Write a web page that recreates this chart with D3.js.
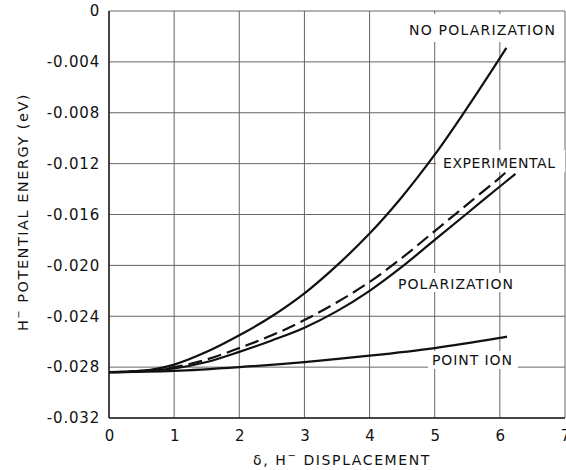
<!DOCTYPE html>
<html>
<head>
	<meta charset="utf-8">
	<title>H- potential energy vs displacement</title>
	<script src="https://cdn.jsdelivr.net/npm/d3@7" type="text/javascript"></script>
	<style>
		body { margin: 0; background: #fff; }
		svg text {
			font-family: "DejaVu Sans", sans-serif;
			fill: #111;
		}
		.grid line { stroke: #666; stroke-width: 1; }
		.curve { fill: none; stroke: #111; stroke-width: 2.2; }
	</style>
</head>
<body>
	<script type="text/javascript">
		// Tick values for both axes
		var xTicks = [0, 1, 2, 3, 4, 5, 6, 7];
		var yTicks = [0, -0.004, -0.008, -0.012, -0.016, -0.020, -0.024, -0.028, -0.032];

		// Curves: [displacement, energy (eV)]
		var noPolarization = [[0, -0.0284], [0.5, -0.0283], [1, -0.0278], [1.5, -0.0268],
			[2, -0.0255], [2.5, -0.0240], [3, -0.0222], [3.5, -0.0200], [4, -0.0175],
			[4.5, -0.0146], [5, -0.0113], [5.5, -0.0076], [6, -0.0037], [6.1, -0.0029]];
		var experimental = [[0, -0.0284], [0.5, -0.0283], [1, -0.0280], [1.5, -0.0274],
			[2, -0.0265], [2.5, -0.0255], [3, -0.0243], [3.5, -0.0229], [4, -0.0213],
			[4.5, -0.0194], [5, -0.0173], [5.5, -0.0152], [6, -0.0131], [6.11, -0.0126]];
		var polarization = [[0, -0.0284], [0.5, -0.0283], [1, -0.0281], [1.5, -0.0276],
			[2, -0.0268], [2.5, -0.0259], [3, -0.0249], [3.5, -0.0236], [4, -0.0220],
			[4.5, -0.0201], [5, -0.0180], [5.5, -0.0159], [6, -0.0138], [6.24, -0.0128]];
		var pointIon = [[0, -0.0284], [1, -0.0283], [2, -0.0280], [3, -0.0276],
			[4, -0.0271], [5, -0.0265], [6, -0.0257], [6.11, -0.0256]];

		var svg_width = 566;
		var svg_height = 470;

		var x = d3.scaleLinear().domain([0, 7]).range([109, 565]);
		var y = d3.scaleLinear().domain([-0.032, 0]).range([418, 11]);

		var svg = d3.select("body").append("svg")
			.attr("width", svg_width)
			.attr("height", svg_height);

		// grid
		var grid = svg.append("g").attr("class", "grid");
		grid.selectAll("line.v").data(xTicks).enter().append("line")
			.attr("class", "v")
			.attr("x1", function(d) { return x(d); })
			.attr("x2", function(d) { return x(d); })
			.attr("y1", y(0)).attr("y2", y(-0.032));
		grid.selectAll("line.h").data(yTicks).enter().append("line")
			.attr("class", "h")
			.attr("x1", x(0)).attr("x2", x(7))
			.attr("y1", function(d) { return y(d); })
			.attr("y2", function(d) { return y(d); });

		// heavier left and bottom frame
		svg.append("line").attr("x1", x(0)).attr("x2", x(0))
			.attr("y1", y(0)).attr("y2", y(-0.032))
			.attr("stroke", "#222").attr("stroke-width", 1.5);
		svg.append("line").attr("x1", x(0)).attr("x2", x(7))
			.attr("y1", y(-0.032)).attr("y2", y(-0.032))
			.attr("stroke", "#222").attr("stroke-width", 1.5);

		// white patches behind the curve labels break the grid
		var patches = [
			[405, 14, 158, 28],
			[436, 150, 129, 22],
			[395, 273, 123, 19],
			[428, 351, 90, 18]
		];
		svg.selectAll("rect.patch").data(patches).enter().append("rect")
			.attr("class", "patch")
			.attr("x", function(d) { return d[0]; })
			.attr("y", function(d) { return d[1]; })
			.attr("width", function(d) { return d[2]; })
			.attr("height", function(d) { return d[3]; })
			.attr("fill", "#fff");

		// axes (labels only)
		var xAxis = d3.axisBottom(x).tickValues(xTicks).tickSize(0).tickPadding(12)
			.tickFormat(d3.format("d"));
		var gx = svg.append("g").attr("transform", "translate(0," + y(-0.032) + ")").call(xAxis);
		gx.select(".domain").remove();
		gx.selectAll("text").attr("font-size", 15).attr("font-family", "DejaVu Sans, sans-serif");

		var yAxis = d3.axisLeft(y).tickValues(yTicks).tickSize(0).tickPadding(9)
			.tickFormat(function(d) { return d === 0 ? "0" : "-" + d3.format(".3f")(-d); });
		var gy = svg.append("g").attr("transform", "translate(" + x(0) + ",0)").call(yAxis);
		gy.select(".domain").remove();
		gy.selectAll("text").attr("font-size", 15).attr("letter-spacing", 0.8)
			.attr("font-family", "DejaVu Sans, sans-serif");

		// curves
		var line = d3.line()
			.x(function(d) { return x(d[0]); })
			.y(function(d) { return y(d[1]); })
			.curve(d3.curveCatmullRom.alpha(0.5));

		svg.append("path").datum(noPolarization).attr("class", "curve").attr("d", line);
		svg.append("path").datum(polarization).attr("class", "curve").attr("d", line);
		svg.append("path").datum(pointIon).attr("class", "curve").attr("d", line);
		svg.append("path").datum(experimental).attr("class", "curve")
			.attr("stroke-dasharray", "14,6").attr("d", line);

		// curve labels (x, baseline, width)
		var labels = [
			{ text: "NO POLARIZATION", x: 409, y: 35, w: 146 },
			{ text: "EXPERIMENTAL", x: 443, y: 168, w: 112 },
			{ text: "POLARIZATION", x: 398, y: 289, w: 115 },
			{ text: "POINT ION", x: 432, y: 365, w: 80 }
		];
		svg.selectAll("text.lbl").data(labels).enter().append("text")
			.attr("class", "lbl")
			.attr("x", function(d) { return d.x; })
			.attr("y", function(d) { return d.y; })
			.attr("font-size", 14)
			.attr("textLength", function(d) { return d.w; })
			.attr("lengthAdjust", "spacing")
			.text(function(d) { return d.text; });

		// axis titles
		var xt = svg.append("text")
			.attr("x", 342).attr("y", 465)
			.attr("text-anchor", "middle")
			.attr("font-size", 14)
			.attr("letter-spacing", 1.6);
		xt.append("tspan").text("δ, H");
		xt.append("tspan").attr("dy", -6).attr("font-size", 10).text("−");
		xt.append("tspan").attr("dy", 6).text(" DISPLACEMENT");

		var yt = svg.append("text")
			.attr("transform", "translate(28,212) rotate(-90)")
			.attr("text-anchor", "middle")
			.attr("font-size", 14.5)
			.attr("letter-spacing", 1.5);
		yt.append("tspan").text("H");
		yt.append("tspan").attr("dy", -6).attr("font-size", 10).text("−");
		yt.append("tspan").attr("dy", 6).text(" POTENTIAL ENERGY (eV)");
	</script>
</body>
</html>
